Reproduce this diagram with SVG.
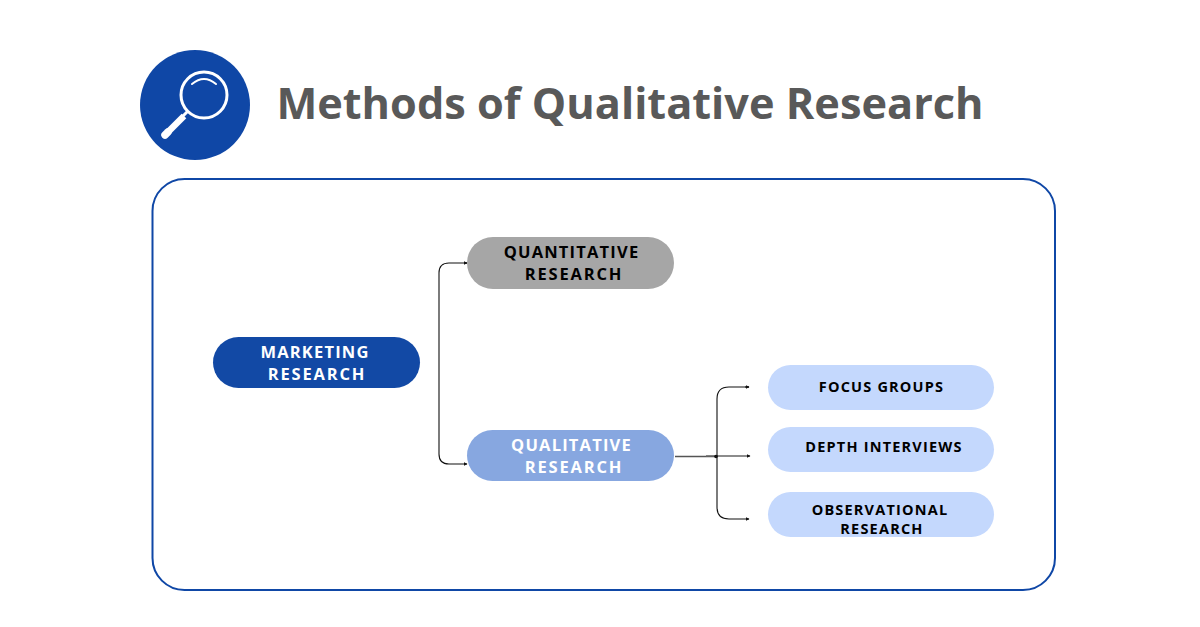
<svg xmlns="http://www.w3.org/2000/svg" width="1200" height="627" viewBox="0 0 1200 627">
<style>
text{font-family:"Open Sans","Noto Sans","Liberation Sans",sans-serif;font-weight:700;text-anchor:middle}
.l{font-size:16.500px;letter-spacing:1.200px}
.w{letter-spacing:1.800px}
.s{font-size:14.500px;letter-spacing:1.200px}
.c{fill:none;stroke:#111;stroke-width:1.100}
</style>
<defs><marker id="a" markerWidth="5" markerHeight="5" refX="3.500" refY="2.500" orient="auto" markerUnits="userSpaceOnUse"><path d="M0 .5L4 2.500L0 4.500z" fill="#111"/></marker></defs>
<rect width="1200" height="627" fill="#fff"/>
<g id="icon">
<circle cx="195" cy="105" r="55" fill="#0f47a6"/>
<circle cx="204" cy="95" r="23" fill="none" stroke="#fff" stroke-width="3"/>
<path d="M192 84Q204 74 216 84" fill="none" stroke="#fff" stroke-width="2" stroke-linecap="round"/>
<path d="M188 111L183 116" stroke="#fff" stroke-width="3"/>
<path d="M184 116L168 132" stroke="#fff" stroke-width="6.500"/>
<path d="M168 132L165 135" stroke="#fff" stroke-width="7.500" stroke-linecap="round"/>
</g>
<text id="title" x="630" y="119" style="font-size:43.300px;fill:#595959">Methods of Qualitative Research</text>
<rect id="frame" x="152.500" y="179" width="902.500" height="411" rx="32" fill="none" stroke="#0f47a6" stroke-width="2"/>
<g id="connectors">
<path class="c" d="M467 263H449Q439 263 439 273V454Q439 464 449 464H467" marker-end="url(#a)"/>
<path class="c" d="M464 263h3" marker-end="url(#a)"/>
<path class="c" d="M675 456.500H716" style="stroke:#555;stroke-width:1.300"/>
<path class="c" d="M706 456H750" style="stroke:#666;stroke-width:1.300" marker-end="url(#a)"/>
<path class="c" d="M749 387H729Q717 387 717 399V507Q717 519 729 519H749" marker-end="url(#a)"/>
<path class="c" d="M745 387h4" marker-end="url(#a)"/>
<circle cx="716" cy="456.500" r="1.800" fill="#111"/>
</g>
<g id="marketing"><rect x="213" y="337" width="207" height="51" rx="25.500" fill="#1249a5"/><text class="l" x="315" y="357.500" fill="#fff">MARKETING</text><text class="l w" x="317" y="379.500" fill="#fff">RESEARCH</text></g>
<g id="quantitative"><rect x="467" y="237" width="207" height="52" rx="26" fill="#a6a6a6"/><text class="l" x="571.500" y="257.500" fill="#000">QUANTITATIVE</text><text class="l w" x="574" y="279.500" fill="#000">RESEARCH</text></g>
<g id="qualitative"><rect x="467" y="430" width="207" height="51" rx="25.500" fill="#87a7e0"/><text class="l" x="571.500" y="450.500" fill="#fff">QUALITATIVE</text><text class="l w" x="574" y="472.500" fill="#fff">RESEARCH</text></g>
<g id="focus"><rect x="768" y="365" width="226" height="45" rx="22.500" fill="#c4d8fd"/><text class="s" x="881.500" y="392" fill="#000">FOCUS GROUPS</text></g>
<g id="depth"><rect x="768" y="427" width="226" height="45" rx="22.500" fill="#c4d8fd"/><text class="s" x="884" y="452" fill="#000">DEPTH INTERVIEWS</text></g>
<g id="observational"><rect x="768" y="492" width="226" height="45" rx="22.500" fill="#c4d8fd"/><text class="s" x="880" y="515" fill="#000">OBSERVATIONAL</text><text class="s" x="882" y="534" fill="#000">RESEARCH</text></g>
</svg>
